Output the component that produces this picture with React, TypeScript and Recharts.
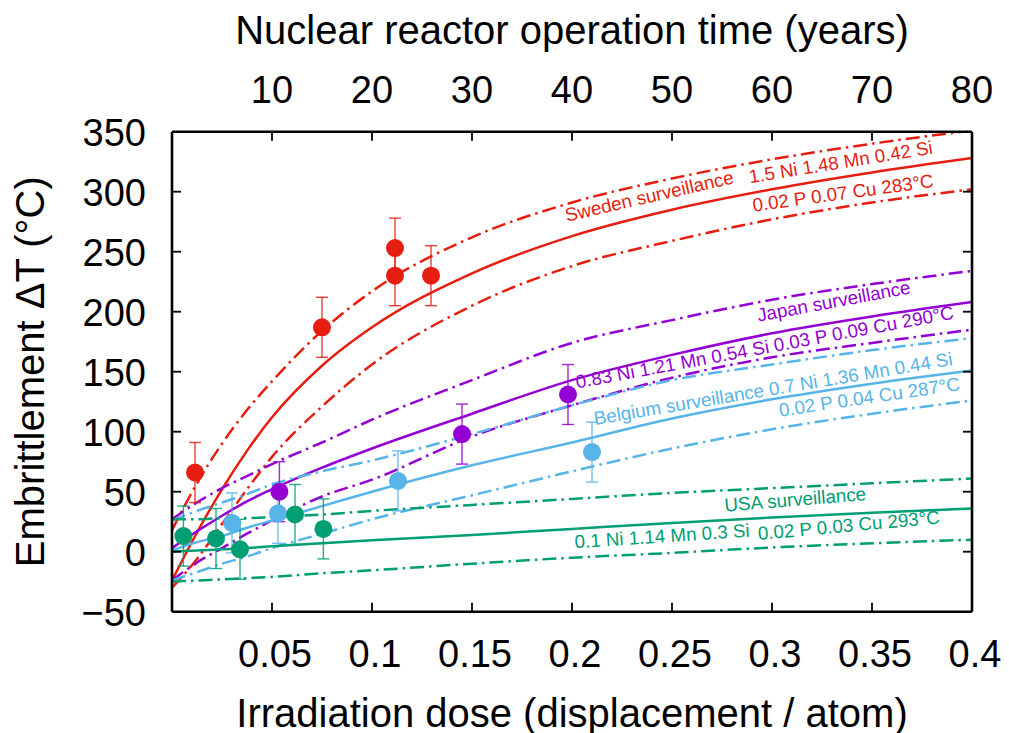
import { ComposedChart, Line, Scatter, ErrorBar, XAxis, YAxis, ReferenceDot } from "recharts";

const FONT = '"Liberation Sans", Arial, Helvetica, sans-serif';

const RED = "#e51e10";
const PURPLE = "#9400d3";
const BLUE = "#56b4e9";
const GREEN = "#009e73";

const doseGrid = [0, 0.0125, 0.025, 0.0375, 0.05, 0.075, 0.1, 0.15, 0.2, 0.25, 0.3, 0.35, 0.4];

const swedenFit = [-24, 16, 52, 84, 112, 155, 187, 232, 263, 285, 302, 316, 328];
const swedenUpper = [18, 57, 90, 118, 142, 184, 217, 262, 291, 311, 327, 340, 351];
const swedenLower = [-30, -6, 23, 52, 79, 121, 156, 205, 238, 259, 277, 291, 302];

const japanFit = [3, 17, 30, 42, 52, 70, 86, 115, 143, 164, 182, 196, 208];
const japanUpper = [27, 41, 53, 63, 73, 91, 110, 143, 174, 193, 210, 223, 234];
const japanLower = [-24, -9, 3, 15, 26, 46, 60, 96, 122, 145, 162, 174, 185];

const belgiumFit = [1, 8, 13, 20, 26, 38, 50, 72, 91, 111, 127, 140, 151];
const belgiumUpper = [26, 34, 41, 48, 56, 67, 76, 98, 122, 143, 156, 168, 178];
const belgiumLower = [-24, -17, -10, -4, 3, 15, 27, 47, 67, 86, 102, 115, 126];

const usaFit = [0, 1, 2, 3, 4.5, 7, 9.5, 14, 19, 24, 28.5, 32.5, 36];
const usaUpper = [27, 27, 28, 28, 29, 31, 34, 39, 44, 49, 53, 57, 61];
const usaLower = [-25, -24, -23, -22, -21, -18, -15.5, -10, -5, -1, 3.5, 7, 10];

// surveillance measurements
const swedenDose = [0.0115, 0.075, 0.1115, 0.1115, 0.1295];
const swedenDT = [66, 187, 253, 230, 230];
const swedenErr = [25, 25, 25, 25, 25];

const japanDose = [0.0537, 0.145, 0.198];
const japanDT = [50, 98, 131];
const japanErr = [25, 25, 25];

const belgiumDose = [0.03, 0.053, 0.113, 0.21];
const belgiumDT = [24, 32, 59, 83];
const belgiumErr = [25, 25, 25, 25];

const usaDose = [0.0057, 0.022, 0.034, 0.0615, 0.0757];
const usaDT = [13, 11, 2, 31, 19];
const usaErr = [25, 25, 25, 25, 25];

const doseTicks = [0.05, 0.1, 0.15, 0.2, 0.25, 0.3, 0.35, 0.4];
// operation time in years at the same positions as the dose ticks
const yearTicks = [10, 20, 30, 40, 50, 60, 70, 80];
const dtTicks = [-50, 0, 50, 100, 150, 200, 250, 300, 350];

const curveLabels = [
  { text: "Sweden surveillance", dose: 0.1974, dt: 275, angle: -12.9, color: RED },
  { text: "1.5 Ni 1.48 Mn 0.42 Si", dose: 0.289, dt: 307, angle: -9.2, color: RED },
  { text: "0.02 P 0.07 Cu 283°C", dose: 0.2907, dt: 283.3, angle: -7.8, color: RED },
  { text: "Japan surveillance", dose: 0.2932, dt: 191.7, angle: -10.5, color: PURPLE },
  { text: "0.83 Ni 1.21 Mn 0.54 Si 0.03 P 0.09 Cu 290°C", dose: 0.2025, dt: 136, angle: -10.5, color: PURPLE },
  { text: "Belgium surveillance 0.7 Ni 1.36 Mn 0.44 Si", dose: 0.2115, dt: 105.6, angle: -9.5, color: BLUE },
  { text: "0.02 P 0.04 Cu 287°C", dose: 0.304, dt: 112.5, angle: -8.4, color: BLUE },
  { text: "USA surveillance", dose: 0.2765, dt: 33.3, angle: -4.7, color: GREEN },
  { text: "0.1 Ni 1.14 Mn 0.3 Si", dose: 0.2015, dt: 2.8, angle: -3.8, color: GREEN },
  { text: "0.02 P 0.03 Cu 293°C", dose: 0.2932, dt: 9.75, angle: -5.2, color: GREEN },
];

const curveTable = doseGrid.map((x, i) => ({
  x,
  swedenFit: swedenFit[i],
  swedenUpper: swedenUpper[i],
  swedenLower: swedenLower[i],
  japanFit: japanFit[i],
  japanUpper: japanUpper[i],
  japanLower: japanLower[i],
  belgiumFit: belgiumFit[i],
  belgiumUpper: belgiumUpper[i],
  belgiumLower: belgiumLower[i],
  usaFit: usaFit[i],
  usaUpper: usaUpper[i],
  usaLower: usaLower[i],
}));

const toPoints = (dose: number[], dt: number[], err: number[]) =>
  dose.map((x, i) => ({ x, y: dt[i], err: err[i] }));

const curves = [
  { key: "swedenUpper", color: RED, dashed: true },
  { key: "swedenFit", color: RED, dashed: false },
  { key: "swedenLower", color: RED, dashed: true },
  { key: "japanUpper", color: PURPLE, dashed: true },
  { key: "japanFit", color: PURPLE, dashed: false },
  { key: "japanLower", color: PURPLE, dashed: true },
  { key: "belgiumUpper", color: BLUE, dashed: true },
  { key: "belgiumFit", color: BLUE, dashed: false },
  { key: "belgiumLower", color: BLUE, dashed: true },
  { key: "usaUpper", color: GREEN, dashed: true },
  { key: "usaFit", color: GREEN, dashed: false },
  { key: "usaLower", color: GREEN, dashed: true },
];

const pointSets = [
  { name: "Sweden", color: RED, data: toPoints(swedenDose, swedenDT, swedenErr) },
  { name: "Japan", color: PURPLE, data: toPoints(japanDose, japanDT, japanErr) },
  { name: "Belgium", color: BLUE, data: toPoints(belgiumDose, belgiumDT, belgiumErr) },
  { name: "USA", color: GREEN, data: toPoints(usaDose, usaDT, usaErr) },
];

const W = 1009;
const H = 733;
const PLOT = { left: 172, right: 972, top: 131.7, bottom: 611.7 };

const fmtNum = (v: number) => (v < 0 ? "\u2212" + String(-v) : String(v));

const BottomTick = (props: any) => {
  const { x, y, payload } = props;
  return (
    <g>
      {payload.value < 0.4 && <line x1={x} y1={y} x2={x} y2={y - 9} stroke="#000" strokeWidth={1.8} />}
      <text x={x + 3} y={y + 55} textAnchor="middle" fontSize={38} fontFamily={FONT} fill="#000">
        {fmtNum(payload.value)}
      </text>
    </g>
  );
};

const TopTick = (props: any) => {
  const { x, y, payload, index } = props;
  const i = index != null ? index : doseTicks.indexOf(payload.value);
  return (
    <g>
      {payload.value < 0.4 && <line x1={x} y1={y} x2={x} y2={y + 9} stroke="#000" strokeWidth={1.8} />}
      <text x={x} y={y - 28.5} textAnchor="middle" fontSize={38} fontFamily={FONT} fill="#000">
        {yearTicks[i]}
      </text>
    </g>
  );
};

const LeftTick = (props: any) => {
  const { x, y, payload } = props;
  const edge = payload.value === -50 || payload.value === 350;
  return (
    <g>
      {!edge && <line x1={x} y1={y} x2={x + 9} y2={y} stroke="#000" strokeWidth={1.8} />}
      <text x={x - 26} y={y + 14} textAnchor="end" fontSize={38} fontFamily={FONT} fill="#000">
        {fmtNum(payload.value)}
      </text>
    </g>
  );
};

const RightTick = (props: any) => {
  const { x, y, payload } = props;
  const edge = payload.value === -50 || payload.value === 350;
  return edge ? <g /> : <line x1={x} y1={y} x2={x - 9} y2={y} stroke="#000" strokeWidth={1.8} />;
};

const titleStyle = { fontSize: 40, fontFamily: FONT, fill: "#000" };

const BottomTitle = () => (
  <text x={(PLOT.left + PLOT.right) / 2} y={726.5} textAnchor="middle" style={titleStyle}>
    Irradiation dose (displacement / atom)
  </text>
);

const TopTitle = () => (
  <text x={(PLOT.left + PLOT.right) / 2} y={43.5} textAnchor="middle" style={titleStyle}>
    Nuclear reactor operation time (years)
  </text>
);

const LeftTitle = () => {
  const cx = 44;
  const cy = (PLOT.top + PLOT.bottom) / 2;
  return (
    <text x={cx} y={cy} textAnchor="middle" transform={`rotate(-90, ${cx}, ${cy})`} style={titleStyle}>
      Embrittlement ΔT (°C)
    </text>
  );
};

const makeDot = (color: string) => (props: any) => {
  const { cx, cy } = props;
  if (cx == null || cy == null) return <g />;
  return <circle cx={cx} cy={cy} r={9} fill={color} />;
};

const makeLabel = (text: string, angle: number, color: string) => (props: any) => {
  const { cx, cy } = props;
  return (
    <text
      x={cx}
      y={cy}
      transform={`rotate(${angle}, ${cx}, ${cy})`}
      fontSize={18.8}
      fontFamily={FONT}
      fill={color}
    >
      {text}
    </text>
  );
};

export default function App() {
  return (
    <div style={{ position: "absolute", left: 0, top: 0, width: W, height: H, background: "#fff" }}>
      <ComposedChart
        width={W}
        height={H}
        data={curveTable}
        margin={{ top: 0, right: 0, bottom: 0, left: 0 }}
      >
        <XAxis
          xAxisId="dose"
          dataKey="x"
          type="number"
          domain={[0, 0.4]}
          ticks={doseTicks}
          interval={0}
          allowDataOverflow
          height={H - PLOT.bottom}
          axisLine={{ stroke: "#000", strokeWidth: 2.6 }}
          tickLine={false}
          tickSize={0}
          tickMargin={0}
          tick={<BottomTick />}
          label={<BottomTitle />}
        />
        <XAxis
          xAxisId="years"
          orientation="top"
          dataKey="x"
          type="number"
          domain={[0, 0.4]}
          ticks={doseTicks}
          interval={0}
          allowDataOverflow
          height={PLOT.top}
          axisLine={{ stroke: "#000", strokeWidth: 2.6 }}
          tickLine={false}
          tickSize={0}
          tickMargin={0}
          tick={<TopTick />}
          label={<TopTitle />}
        />
        <YAxis
          yAxisId="dt"
          type="number"
          domain={[-50, 350]}
          ticks={dtTicks}
          interval={0}
          allowDataOverflow
          width={PLOT.left}
          axisLine={{ stroke: "#000", strokeWidth: 2.6 }}
          tickLine={false}
          tickSize={0}
          tickMargin={0}
          tick={<LeftTick />}
          label={<LeftTitle />}
        />
        <YAxis
          yAxisId="mirror"
          orientation="right"
          type="number"
          domain={[-50, 350]}
          ticks={dtTicks}
          interval={0}
          allowDataOverflow
          width={W - PLOT.right}
          axisLine={{ stroke: "#000", strokeWidth: 2.6 }}
          tickLine={false}
          tickSize={0}
          tickMargin={0}
          tick={<RightTick />}
        />

        {curves.map((c) => (
          <Line
            key={c.key}
            xAxisId="dose"
            yAxisId="dt"
            dataKey={c.key}
            type="monotone"
            stroke={c.color}
            strokeWidth={2.5}
            strokeDasharray={c.dashed ? "14 5 2.5 5" : undefined}
            dot={false}
            activeDot={false}
            isAnimationActive={false}
          />
        ))}

        {pointSets.map((s) => (
          <Scatter
            key={s.name}
            name={s.name}
            xAxisId="dose"
            yAxisId="dt"
            data={s.data}
            dataKey="y"
            fill={s.color}
            shape={makeDot(s.color)}
            isAnimationActive={false}
          >
            <ErrorBar dataKey="err" direction="y" width={6} stroke={s.color} strokeWidth={1.4} strokeOpacity={0.85} />
          </Scatter>
        ))}

        {curveLabels.map((l) => (
          <ReferenceDot
            key={l.text}
            xAxisId="dose"
            yAxisId="dt"
            x={l.dose}
            y={l.dt}
            r={0}
            shape={makeLabel(l.text, l.angle, l.color)}
          />
        ))}
      </ComposedChart>
    </div>
  );
}
